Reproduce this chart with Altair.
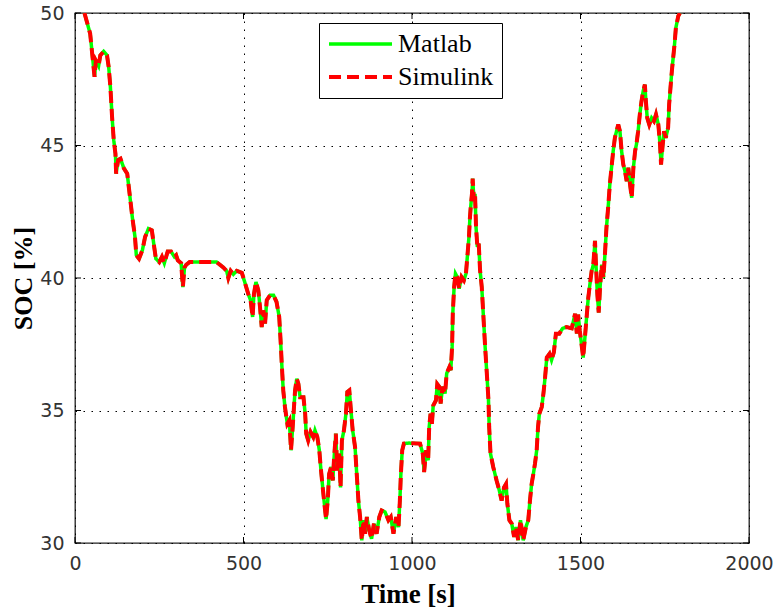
import altair as alt
import pandas as pd

# ---- data ----
time_s = [28, 45, 52, 58, 62, 70, 75, 85, 95, 100, 105, 110, 115, 120, 122, 128, 135, 145, 155, 162,
          170, 178, 182, 190, 200, 208, 218, 228, 235, 240, 250, 258, 265, 275, 285, 295, 300, 305, 315, 320,
          325, 330, 340, 420, 430, 440, 450, 455, 462, 470, 480, 495, 505, 514, 521, 527, 531, 537, 544, 549,
          554, 559, 564, 569, 579, 589, 598, 606, 610, 614, 618, 623, 630, 636, 641, 646, 653, 658, 663, 668,
          678, 683, 686, 692, 699, 707, 712, 719, 725, 729, 735, 740, 745, 750, 754, 760, 765, 769, 774, 778,
          784, 788, 792, 798, 804, 808, 814, 818, 824, 831, 836, 841, 846, 851, 856, 861, 866, 873, 880, 887,
          895, 903, 910, 920, 930, 937, 945, 953, 960, 964, 967, 971, 976, 990, 1024, 1032, 1036, 1042, 1048, 1051,
          1055, 1059, 1063, 1071, 1075, 1081, 1085, 1091, 1098, 1103, 1111, 1115, 1119, 1121, 1125, 1129, 1134, 1140, 1147, 1154,
          1160, 1165, 1169, 1172, 1175, 1178, 1180, 1184, 1187, 1190, 1194, 1198, 1202, 1207, 1212, 1217, 1222, 1227, 1229, 1233,
          1241, 1251, 1259, 1266, 1273, 1279, 1283, 1289, 1296, 1303, 1309, 1315, 1322, 1330, 1338, 1345, 1350, 1355, 1360, 1365,
          1370, 1374, 1378, 1385, 1390, 1395, 1400, 1408, 1414, 1421, 1427, 1437, 1447, 1459, 1474, 1484, 1489, 1493, 1498, 1503,
          1508, 1513, 1518, 1523, 1528, 1533, 1538, 1543, 1546, 1550, 1554, 1558, 1563, 1568, 1573, 1577, 1582, 1587, 1592, 1597,
          1602, 1607, 1612, 1617, 1622, 1627, 1632, 1637, 1642, 1647, 1652, 1657, 1662, 1666, 1671, 1676, 1681, 1686, 1691, 1694,
          1698, 1704, 1711, 1718, 1724, 1731, 1736, 1739, 1743, 1748, 1753, 1760, 1763, 1767, 1771, 1775, 1779, 1783, 1790, 1795]

soc_matlab = [50.0, 49.22, 48.34, 47.59, 48.2, 48.0, 48.4, 48.55, 48.4, 47.96, 47.21, 46.08, 45.2, 44.69, 43.94, 44.45, 44.5, 44.14, 43.94, 43.18,
              42.3, 41.55, 40.86, 40.73, 41.05, 41.55, 41.86, 41.8, 41.17, 40.73, 40.6, 40.8, 40.56, 41.0, 41.0, 40.8, 40.86, 40.67, 40.56, 39.66,
              40.4, 40.5, 40.6, 40.6, 40.5, 40.4, 40.27, 40.0, 40.27, 40.14, 40.27, 40.2, 39.79, 39.4, 39.16, 38.53, 39.4, 39.85, 39.53, 38.9,
              38.15, 38.78, 38.28, 39.16, 39.35, 39.35, 39.1, 38.53, 37.65, 36.64, 35.76, 35.13, 34.5, 34.63, 33.5, 34.38, 35.76, 36.2, 36.0, 35.5,
              35.5, 34.88, 34.13, 33.87, 34.19, 34.0, 34.25, 34.0, 33.5, 32.87, 32.1, 31.48, 30.9, 31.6, 32.6, 32.87, 32.36, 33.25, 34.13, 32.74,
              33.37, 32.1, 33.87, 34.25, 34.88, 35.7, 35.76, 35.13, 34.25, 33.62, 32.6, 31.6, 30.98, 30.1, 30.86, 30.35, 30.98, 30.48, 30.16, 30.73,
              30.35, 30.98, 31.23, 31.17, 30.86, 30.98, 30.35, 30.98, 30.6, 31.6, 32.6, 33.5, 33.75, 33.77, 33.75, 33.37, 32.68, 33.5, 33.12, 34.38,
              34.88, 34.5, 35.19, 35.38, 36.0, 35.9, 35.26, 35.9, 35.64, 36.4, 36.64, 36.52, 37.4, 38.65, 39.66, 40.16, 40.04, 39.6, 40.04, 39.91,
              40.16, 40.92, 41.55, 42.3, 42.8, 43.18, 43.75, 42.93, 43.18, 41.92, 41.17, 41.3, 40.29, 39.66, 38.53, 37.4, 36.4, 35.38, 34.38, 33.37,
              32.87, 32.36, 31.99, 31.6, 32.1, 32.23, 31.48, 30.86, 30.73, 30.23, 30.6, 30.1, 30.86, 30.1, 30.6, 30.86, 31.6, 32.23, 32.6, 33.0,
              33.5, 34.38, 34.88, 35.13, 35.64, 36.26, 37.0, 37.14, 36.9, 37.2, 37.9, 37.9, 38.1, 38.15, 38.1, 38.65, 37.9, 38.62, 38.0, 37.5,
              37.0, 37.74, 38.5, 39.25, 39.77, 40.26, 40.5, 41.4, 40.5, 39.38, 38.69, 39.63, 40.5, 40.0, 41.0, 41.9, 42.65, 43.53, 44.16, 44.79,
              45.29, 45.54, 45.79, 45.54, 44.79, 44.28, 44.03, 43.65, 44.16, 43.53, 43.03, 44.16, 44.79, 45.04, 45.54, 46.17, 46.67, 47.05, 47.3, 46.67,
              46.04, 45.79, 46.04, 45.92, 46.17, 45.79, 45.04, 44.28, 44.9, 45.54, 45.29, 45.67, 46.55, 47.18, 47.8, 48.31, 48.81, 49.44, 49.88, 50.0]

# the Simulink trace coincides with the Matlab one in the figure
soc_simulink = list(soc_matlab)

series_names = ["Matlab", "Simulink"]
series_colors = ["#00ff00", "#ff0000"]
series_dash = [[1, 0], [12, 6]]
series_width = [3.5, 4]

x_ticks = [0, 500, 1000, 1500, 2000]
y_ticks = [30, 35, 40, 45, 50]

df = pd.concat([
    pd.DataFrame({"time": time_s, "soc": soc_matlab, "series": "Matlab"}),
    pd.DataFrame({"time": time_s, "soc": soc_simulink, "series": "Simulink"}),
], ignore_index=True)

W, H = 674, 530

x_scale = alt.Scale(domain=[0, 2000], nice=False)
y_scale = alt.Scale(domain=[30, 50], nice=False)

grid_style = dict(grid=True, gridColor="#000000", gridDash=[1.5, 6.5], gridOpacity=1, gridWidth=1,
                  ticks=False, domain=False, labelFont="DejaVu Sans", labelFontSize=19,
                  labelColor="#333333", labelFlush=False, labelOverlap=False, format="d")

x_axis = alt.Axis(values=x_ticks, title="Time [s]", labelPadding=11,
                  titleFont="Liberation Serif", titleFontSize=27, titleFontWeight="bold",
                  titleColor="#000000", titleX=333, titleY=59, titleBaseline="alphabetic",
                  titleAlign="center", **grid_style)
y_axis = alt.Axis(values=y_ticks, title="SOC [%]", labelPadding=11,
                  titleFont="Liberation Serif", titleFontSize=26, titleFontWeight="bold",
                  titleColor="#000000", titleX=-44, titleY=265, titleAngle=270,
                  titleBaseline="alphabetic", titleAlign="center", **grid_style)

legend = alt.Legend(title=None, orient="none", legendX=244, legendY=10, direction="vertical",
                    fillColor="white", strokeColor="black", padding=8,
                    symbolType="stroke", symbolSize=3969, symbolStrokeWidth=3,
                    clipHeight=26,
                    labelFont="Liberation Serif", labelFontSize=26, labelColor="black",
                    labelOffset=4, rowPadding=7)

lines = alt.Chart(df).mark_line(clip=True).encode(
    x=alt.X("time:Q", scale=x_scale, axis=x_axis),
    y=alt.Y("soc:Q", scale=y_scale, axis=y_axis),
    color=alt.Color("series:N", scale=alt.Scale(domain=series_names, range=series_colors), legend=legend),
    strokeDash=alt.StrokeDash("series:N", scale=alt.Scale(domain=series_names, range=series_dash), legend=legend),
    strokeWidth=alt.StrokeWidth("series:N", scale=alt.Scale(domain=series_names, range=series_width), legend=None),
)

xt = pd.DataFrame({"time": x_ticks})
yt = pd.DataFrame({"soc": y_ticks})
tick_color = "#000000"
xtick_bottom = alt.Chart(xt).mark_rule(color=tick_color, strokeWidth=1).encode(
    x=alt.X("time:Q", scale=x_scale, axis=x_axis), y=alt.value(H), y2=alt.value(H - 6))
xtick_top = alt.Chart(xt).mark_rule(color=tick_color, strokeWidth=1).encode(
    x=alt.X("time:Q", scale=x_scale, axis=x_axis), y=alt.value(0), y2=alt.value(6))
ytick_left = alt.Chart(yt).mark_rule(color=tick_color, strokeWidth=1).encode(
    y=alt.Y("soc:Q", scale=y_scale, axis=y_axis), x=alt.value(0), x2=alt.value(6))
ytick_right = alt.Chart(yt).mark_rule(color=tick_color, strokeWidth=1).encode(
    y=alt.Y("soc:Q", scale=y_scale, axis=y_axis), x=alt.value(W), x2=alt.value(W - 6))

chart = alt.layer(lines, xtick_bottom, xtick_top, ytick_left, ytick_right).properties(
    width=W, height=H,
    autosize=alt.AutoSizeParams(type="none"),
    padding={"left": 75, "top": 13, "right": 27, "bottom": 67},
    background="white",
).configure_view(stroke="#222222", strokeWidth=1.3)

chart.save("out.html", embed_options={"renderer": "svg", "actions": False})
